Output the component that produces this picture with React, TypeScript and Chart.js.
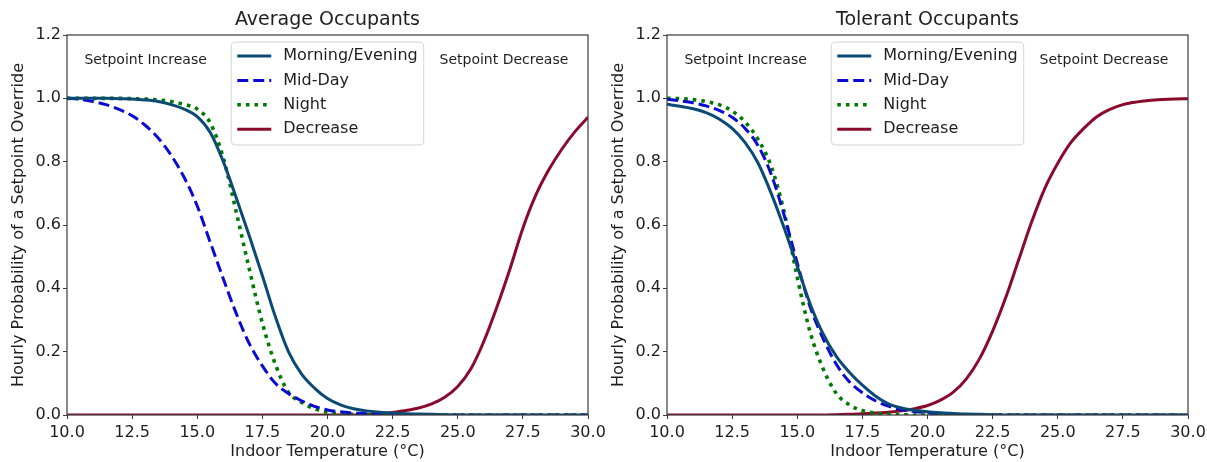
import React, { useEffect, useRef } from 'react';
import { Chart, registerables } from 'chart.js';

Chart.register(...registerables);

// Indoor temperature samples (°C) shared by every curve
const temperatures = [
  10, 10.5, 11, 11.5, 12, 12.5, 13, 13.5, 14, 14.5,
  15, 15.5, 16, 16.5, 17, 17.5, 18, 18.5, 19, 19.5,
  20, 20.5, 21, 21.5, 22, 22.5, 23, 23.5, 24, 24.5,
  25, 25.5, 26, 26.5, 27, 27.5, 28, 28.5, 29, 29.5, 30,
];

// Average occupants: hourly override probabilities
const avgMorningEvening = [
  1.0, 1.0, 1.0, 1.0, 0.999, 0.998, 0.995, 0.99, 0.98, 0.966,
  0.942, 0.892, 0.8, 0.685, 0.565, 0.44, 0.31, 0.2, 0.13, 0.085,
  0.052, 0.032, 0.02, 0.013, 0.009, 0.006, 0.004, 0.003, 0.002, 0.001,
  0, 0, 0, 0, 0, 0, 0, 0, 0, 0, 0,
];
const avgMidDay = [
  1.0, 0.997, 0.99, 0.98, 0.965, 0.945, 0.915, 0.875, 0.82, 0.75,
  0.66, 0.545, 0.43, 0.32, 0.225, 0.155, 0.1, 0.068, 0.045, 0.027,
  0.016, 0.01, 0.006, 0.004, 0.002, 0.001, 0, 0, 0, 0,
  0, 0, 0, 0, 0, 0, 0, 0, 0, 0, 0,
];
const avgNight = [
  1.0, 1.0, 1.0, 1.0, 1.0, 0.999, 0.998, 0.995, 0.99, 0.981,
  0.966, 0.922, 0.812, 0.64, 0.46, 0.29, 0.16, 0.072, 0.04, 0.02,
  0.009, 0.004, 0.002, 0.001, 0, 0, 0, 0, 0, 0,
  0, 0, 0, 0, 0, 0, 0, 0, 0, 0, 0,
];
const avgDecrease = [
  0, 0, 0, 0, 0, 0, 0, 0, 0, 0,
  0, 0, 0, 0, 0, 0, 0, 0, 0, 0,
  0, 0, 0, 0.002, 0.004, 0.008, 0.014, 0.022, 0.035, 0.056,
  0.09, 0.145, 0.232, 0.34, 0.46, 0.59, 0.695, 0.775, 0.84, 0.895, 0.94,
];

// Tolerant occupants: hourly override probabilities
const tolMorningEvening = [
  0.981, 0.975, 0.967, 0.955, 0.935, 0.905, 0.86, 0.795, 0.7, 0.59,
  0.47, 0.35, 0.255, 0.185, 0.135, 0.094, 0.06, 0.035, 0.022, 0.015,
  0.01, 0.007, 0.005, 0.003, 0.002, 0.001, 0, 0, 0, 0,
  0, 0, 0, 0, 0, 0, 0, 0, 0, 0, 0,
];
const tolMidDay = [
  0.997, 0.992, 0.986, 0.976, 0.962, 0.94, 0.905, 0.85, 0.76, 0.63,
  0.48, 0.34, 0.24, 0.16, 0.105, 0.07, 0.045, 0.028, 0.017, 0.011,
  0.007, 0.004, 0.002, 0.001, 0, 0, 0, 0, 0, 0,
  0, 0, 0, 0, 0, 0, 0, 0, 0, 0, 0,
];
const tolNight = [
  1.0, 0.999, 0.996, 0.99, 0.98, 0.96, 0.925, 0.87, 0.785, 0.64,
  0.435, 0.26, 0.145, 0.068, 0.032, 0.014, 0.006, 0.003, 0.001, 0,
  0, 0, 0, 0, 0, 0, 0, 0, 0, 0,
  0, 0, 0, 0, 0, 0, 0, 0, 0, 0, 0,
];
const tolDecrease = [
  0, 0, 0, 0, 0, 0, 0, 0, 0, 0,
  0, 0, 0, 0.001, 0.002, 0.004, 0.006, 0.009, 0.013, 0.02,
  0.03, 0.047, 0.073, 0.115, 0.178, 0.265, 0.37, 0.49, 0.61, 0.715,
  0.795, 0.86, 0.905, 0.942, 0.965, 0.98, 0.988, 0.993, 0.996, 0.998, 0.999,
];

const seriesLabels = ['Morning/Evening', 'Mid-Day', 'Night', 'Decrease'];
const panelTitles = ['Average Occupants', 'Tolerant Occupants'];
const regionNotes = ['Setpoint Increase', 'Setpoint Decrease'];
const xAxisTitle = 'Indoor Temperature (°C)';
const yAxisTitle = 'Hourly Probability of a Setpoint Override';

const FONT = '"DejaVu Sans", sans-serif';
const TEXT_COLOR = '#1e1e1e';
const SPINE_COLOR = '#3a3a3a';

const lineStyles = [
  { color: '#0c4a76', width: 3, dash: [] as number[] },
  { color: '#0a0ad2', width: 3, dash: [11, 5] },
  { color: '#007a00', width: 3.6, dash: [3.6, 5] },
  { color: '#8a0a2c', width: 3, dash: [] as number[] },
];

// Frame, titles, region notes and an in-axes legend drawn on top of the lines
const panelDecor = {
  id: 'panelDecor',
  afterDatasetsDraw(chart: any, _args: any, opts: any) {
    const { ctx, chartArea: a, scales } = chart;
    const cx = (a.left + a.right) / 2;
    ctx.save();

    // spines
    ctx.strokeStyle = SPINE_COLOR;
    ctx.lineWidth = 1.2;
    ctx.setLineDash([]);
    ctx.strokeRect(a.left, a.top, a.right - a.left, a.bottom - a.top);

    ctx.fillStyle = TEXT_COLOR;
    ctx.textBaseline = 'middle';

    // panel title
    ctx.textAlign = 'center';
    ctx.font = `19px ${FONT}`;
    ctx.fillText(opts.title, cx, 20);

    // axis titles
    ctx.font = `16px ${FONT}`;
    ctx.fillText(xAxisTitle, cx, 452);
    ctx.save();
    ctx.translate(19, (a.top + a.bottom) / 2);
    ctx.rotate(-Math.PI / 2);
    ctx.fillText(yAxisTitle, 0, 0);
    ctx.restore();

    // region notes
    ctx.textAlign = 'left';
    ctx.font = `14px ${FONT}`;
    const noteY = scales.y.getPixelForValue(1.12);
    ctx.fillText(regionNotes[0], scales.x.getPixelForValue(10.67), noteY);
    ctx.fillText(regionNotes[1], scales.x.getPixelForValue(24.3), noteY);

    // legend
    ctx.font = `16px ${FONT}`;
    const sets = chart.data.datasets;
    const textW = Math.max(...sets.map((d: any) => ctx.measureText(d.label).width));
    const pad = 6;
    const handleLen = 34;
    const gap = 12;
    const rowH = 24.4;
    const boxW = pad + handleLen + gap + textW + pad;
    const boxH = 103;
    const bx = cx - boxW / 2;
    const by = a.top + 7;
    ctx.beginPath();
    ctx.roundRect(bx, by, boxW, boxH, 4);
    ctx.fillStyle = 'rgba(255,255,255,0.9)';
    ctx.fill();
    ctx.strokeStyle = '#d4d4d4';
    ctx.lineWidth = 1;
    ctx.stroke();

    sets.forEach((d: any, i: number) => {
      const ry = by + 14 + i * rowH;
      ctx.beginPath();
      ctx.setLineDash(d.borderDash || []);
      ctx.lineCap = 'butt';
      ctx.strokeStyle = d.borderColor;
      ctx.lineWidth = d.borderWidth;
      ctx.moveTo(bx + pad, ry);
      ctx.lineTo(bx + pad + handleLen, ry);
      ctx.stroke();
      ctx.setLineDash([]);
      ctx.fillStyle = TEXT_COLOR;
      ctx.textAlign = 'left';
      ctx.fillText(d.label, bx + pad + handleLen + gap, ry);
    });

    ctx.restore();
  },
};

type PanelProps = { title: string; series: number[][]; left: number; width: number };

function Panel({ title, series, left, width }: PanelProps) {
  const ref = useRef<HTMLCanvasElement | null>(null);

  useEffect(() => {
    if (!ref.current) return;
    const tickFont = { family: FONT, size: 16 };
    const chart = new Chart(ref.current, {
      type: 'line',
      data: {
        datasets: seriesLabels.map((label, i) => ({
          label,
          data: temperatures.map((t, k) => ({ x: t, y: series[i][k] })),
          borderColor: lineStyles[i].color,
          borderWidth: lineStyles[i].width,
          borderDash: lineStyles[i].dash,
          borderCapStyle: 'butt',
          pointRadius: 0,
          fill: false,
          cubicInterpolationMode: 'monotone',
        })),
      },
      options: {
        responsive: false,
        animation: false,
        // plot box spans 67..588 px horizontally, 35..415 px vertically
        layout: { padding: { top: 35, right: width - 588, left: 0, bottom: 0 } },
        plugins: {
          legend: { display: false },
          title: { display: false },
          tooltip: { enabled: false },
          panelDecor: { title },
        } as any,
        scales: {
          x: {
            type: 'linear',
            min: 10,
            max: 30,
            ticks: {
              stepSize: 2.5,
              autoSkip: false,
              maxRotation: 0,
              padding: 4,
              color: TEXT_COLOR,
              font: tickFont,
              callback: (v: any) => Number(v).toFixed(1),
            },
            grid: { display: true, drawOnChartArea: false, drawTicks: true, tickLength: 4, color: SPINE_COLOR },
            border: { display: false },
            afterFit: (s: any) => {
              s.height = 47;
              // edge labels may overhang the plot; keep the plot edges fixed
              s.paddingLeft = 0;
              s.paddingRight = 0;
            },
          },
          y: {
            type: 'linear',
            min: 0,
            max: 1.2,
            ticks: {
              stepSize: 0.2,
              padding: 2,
              color: TEXT_COLOR,
              font: tickFont,
              callback: (v: any) => Number(v).toFixed(1),
            },
            grid: { display: true, drawOnChartArea: false, drawTicks: true, tickLength: 4, color: SPINE_COLOR },
            border: { display: false },
            afterFit: (s: any) => {
              s.width = 67;
            },
          },
        },
      } as any,
      plugins: [panelDecor],
    });
    return () => chart.destroy();
  }, [title, series, width]);

  return (
    <canvas
      ref={ref}
      width={width}
      height={462}
      style={{ position: 'absolute', left, top: 0, width, height: 462, display: 'block' }}
    />
  );
}

export default function App() {
  return (
    <div
      style={{
        position: 'absolute',
        left: 0,
        top: 0,
        width: 1207,
        height: 462,
        overflow: 'hidden',
        background: '#fff',
      }}
    >
      <Panel
        title={panelTitles[0]}
        series={[avgMorningEvening, avgMidDay, avgNight, avgDecrease]}
        left={0}
        width={620}
      />
      <Panel
        title={panelTitles[1]}
        series={[tolMorningEvening, tolMidDay, tolNight, tolDecrease]}
        left={600}
        width={607}
      />
    </div>
  );
}
